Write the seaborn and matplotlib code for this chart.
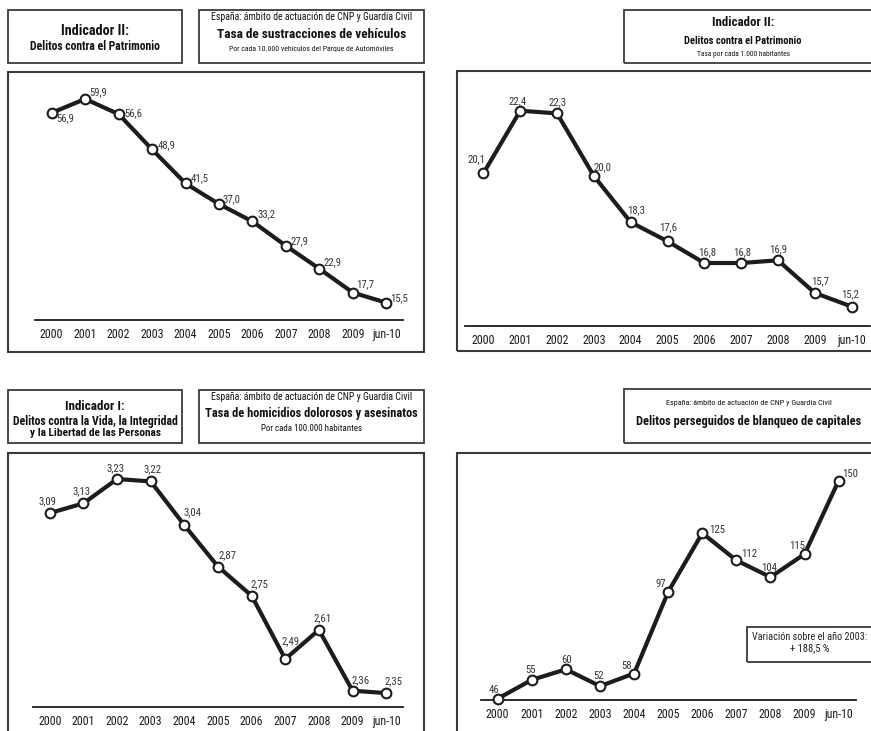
import os
import matplotlib
matplotlib.use("Agg")
import matplotlib.pyplot as plt
from matplotlib.patches import Rectangle
from matplotlib import font_manager
from matplotlib.font_manager import FontProperties
import seaborn as sns
import pandas as pd

# ---- data ----
periods = ["2000", "2001", "2002", "2003", "2004", "2005", "2006", "2007", "2008", "2009", "jun-10"]
sustracciones = [56.9, 59.9, 56.6, 48.9, 41.5, 37.0, 33.2, 27.9, 22.9, 17.7, 15.5]
patrimonio = [20.1, 22.4, 22.3, 20.0, 18.3, 17.6, 16.8, 16.8, 16.9, 15.7, 15.2]
homicidios = [3.09, 3.13, 3.23, 3.22, 3.04, 2.87, 2.75, 2.49, 2.61, 2.36, 2.35]
blanqueo = [46, 55, 60, 52, 58, 97, 125, 112, 104, 115, 150]

# ---- fonts: a narrow humanist sans, regular + bold faces ----
sns.set_style("white")
font_files = {os.path.splitext(os.path.basename(f.fname))[0].lower(): f.fname
              for f in font_manager.fontManager.ttflist}
face_pairs = [
    ("liberationsansnarrow-regular", "liberationsansnarrow-bold"),
    ("notosans-condensed", "notosans-condensedbold"),
    ("notosans-semicondensed", "notosans-semicondensedbold"),
    ("robotocondensed-regular", "robotocondensed-bold"),
    ("opensans_condensed-regular", "opensans_condensed-bold"),
    ("dejavusanscondensed", "dejavusanscondensed-bold"),
    ("opensanscondensed-light", "opensanscondensed-bold"),
]
REG = BOLD = None
for r, b in face_pairs:
    if r in font_files and b in font_files:
        REG = FontProperties(fname=font_files[r])
        BOLD = FontProperties(fname=font_files[b])
        break
if REG is None:
    REG = FontProperties(family="Liberation Sans")
    BOLD = FontProperties(family="Liberation Sans", weight="bold")

W, H = 871, 731
fig = plt.figure(figsize=(W / 100, H / 100), dpi=100)
fig.patch.set_facecolor("white")
renderer = fig.canvas.get_renderer()

LINE = "#1c1c1c"
FRAME = "#3a3a3a"


def fx(x):
    return x / W


def fy(y):
    return 1 - y / H


def sized(s, width_px, bold=False):
    """Copy of the face, sized so that string s spans width_px pixels."""
    fp = (BOLD if bold else REG).copy()
    fp.set_size(10)
    t = fig.text(0, 0, s, fontproperties=fp)
    w = t.get_window_extent(renderer).width
    t.remove()
    fp = fp.copy()
    fp.set_size(10 * width_px / w)
    return fp


TICK_FP = sized("2000", 23)
LABEL_FP = sized("56,9", 18)


def box(x0, y0, x1, y1, lw=1.3):
    fig.add_artist(Rectangle((fx(x0), fy(y1)), (x1 - x0) / W, (y1 - y0) / H,
                             transform=fig.transFigure, fill=False,
                             lw=lw, ec=FRAME, clip_on=False))


def ftext(x, y, s, width_px, bold=False, color="#111111"):
    fig.text(fx(x), fy(y), s, ha="center", va="center",
             fontproperties=sized(s, width_px, bold), color=color)


def panel(values, fmt, x0, x1, y_axis, y_top, ref_val, ref_px, slope, offsets):
    """Axes spanning pixels x0..x1 and y_top..y_axis; slope is pixels per unit."""
    ax = fig.add_axes([fx(x0), fy(y_axis), (x1 - x0) / W, (y_axis - y_top) / H])
    ax.set_facecolor("none")
    lo = ref_val - (y_axis - ref_px) / slope
    hi = ref_val + (ref_px - y_top) / slope
    df = pd.DataFrame({"idx": range(len(periods)), "val": values})
    sns.lineplot(data=df, x="idx", y="val", ax=ax, color=LINE, linewidth=3.0,
                 marker="o", markersize=7, markerfacecolor="white",
                 markeredgecolor=LINE, markeredgewidth=1.5, clip_on=False,
                 zorder=3)
    ax.set_xlim(-0.5, len(periods) - 0.5)
    ax.set_ylim(lo, hi)
    for s in ["top", "right", "left"]:
        ax.spines[s].set_visible(False)
    ax.spines["bottom"].set_color(LINE)
    ax.spines["bottom"].set_linewidth(1.3)
    ax.set_yticks([])
    ax.set_xticks([i - 0.5 for i in range(len(periods) + 1)])
    ax.set_xticklabels([])
    ax.set_xticks(range(len(periods)), minor=True)
    ax.set_xticklabels(periods, minor=True, fontproperties=TICK_FP, color="#1a1a1a")
    ax.tick_params(axis="x", which="major", direction="inout", length=7,
                   width=1.3, color=LINE)
    ax.tick_params(axis="x", which="minor", length=0, pad=6)
    ax.set_xlabel("")
    ax.set_ylabel("")
    for i, v in enumerate(values):
        dx, dy = offsets[i]
        ax.annotate(fmt(v), (i, v), xytext=(dx, -dy), textcoords="offset pixels",
                    ha="center", va="center", fontproperties=LABEL_FP,
                    color="#333333", zorder=5)
    return ax


def dec1(v):
    return f"{v:.1f}".replace(".", ",")


def dec2(v):
    return f"{v:.2f}".replace(".", ",")


def whole(v):
    return f"{v:d}"


# ---- top left: vehicle thefts ----
box(8, 10, 182, 63)
ftext(95, 31, "Indicador II:", 68, bold=True)
ftext(95, 47, "Delitos contra el Patrimonio", 130, bold=True)
box(199, 10, 424, 63)
ftext(311.5, 17, "España: ámbito de actuación de CNP y Guardia Civil", 200)
ftext(311.5, 34, "Tasa de sustracciones de vehículos", 190, bold=True)
ftext(311.5, 49, "Por cada 10.000 vehículos del Parque de Automóviles", 163)
box(8, 72, 424, 352, lw=1.5)
panel(sustracciones, dec1, 35, 403, 320, 80, 59.9, 99, 4.588,
      [(14, 5), (13, -7), (15, -1), (14, -4), (14, -5), (12, -5), (14, -7),
       (14, -5), (13, -7), (12, -8), (13, -4)])

# ---- top right: property crime rate ----
box(624, 10, 880, 63)
ftext(743, 23, "Indicador II:", 62, bold=True)
ftext(743, 41, "Delitos contra el Patrimonio", 118, bold=True)
ftext(743, 54, "Tasa por cada 1.000 habitantes", 92)
box(457, 71, 880, 351, lw=1.5)
panel(patrimonio, dec1, 465, 870, 325.7, 80, 22.4, 110.7, 27.2,
      [(-7, -14), (-3, -9), (1, -11), (9, -9), (5, -12), (1, -14), (3, -11),
       (1, -11), (0, -11), (5, -12), (-1, -12)])

# ---- bottom left: homicide rate ----
box(8, 390, 182, 443)
ftext(95, 406, "Indicador I:", 60, bold=True)
ftext(95, 421, "Delitos contra la Vida, la Integridad", 166, bold=True)
ftext(95, 433, "y la Libertad de las Personas", 132, bold=True)
box(199, 390, 424, 443)
ftext(311.5, 397, "España: ámbito de actuación de CNP y Guardia Civil", 200)
ftext(311.5, 413, "Tasa de homicidios dolorosos y asesinatos", 214, bold=True)
ftext(311.5, 428, "Por cada 100.000 habitantes", 100)
box(8, 453, 424, 745, lw=1.5)
panel(homicidios, dec2, 33, 403, 706.7, 460, 3.23, 479, 243.3,
      [(-2, -12), (-2, -12), (-2, -11), (2, -12), (8, -13), (9, -11), (8, -12),
       (5, -18), (4, -12), (8, -10), (7, -12)])

# ---- bottom right: money laundering ----
box(624, 389, 880, 443)
ftext(749, 403, "España: ámbito de actuación de CNP y Guardia Civil", 166)
ftext(749, 422, "Delitos perseguidos de blanqueo de capitales", 225, bold=True)
box(457, 453, 880, 745, lw=1.5)
panel(blanqueo, whole, 480.7, 855.7, 700, 460, 150, 480.7, 2.096,
      [(-4, -9), (-1, -10), (1, -9), (-1, -10), (-8, -8), (-7, -8), (15, -3),
       (13, -6), (-1, -9), (-7, -8), (11, -7)])
box(747, 627, 880, 662)
ftext(810, 637, "Variación sobre el año 2003:", 113, color="#222222")
ftext(810, 648, "+ 188,5 %", 39, color="#222222")

fig.savefig("out.png", dpi=100, facecolor="white")
